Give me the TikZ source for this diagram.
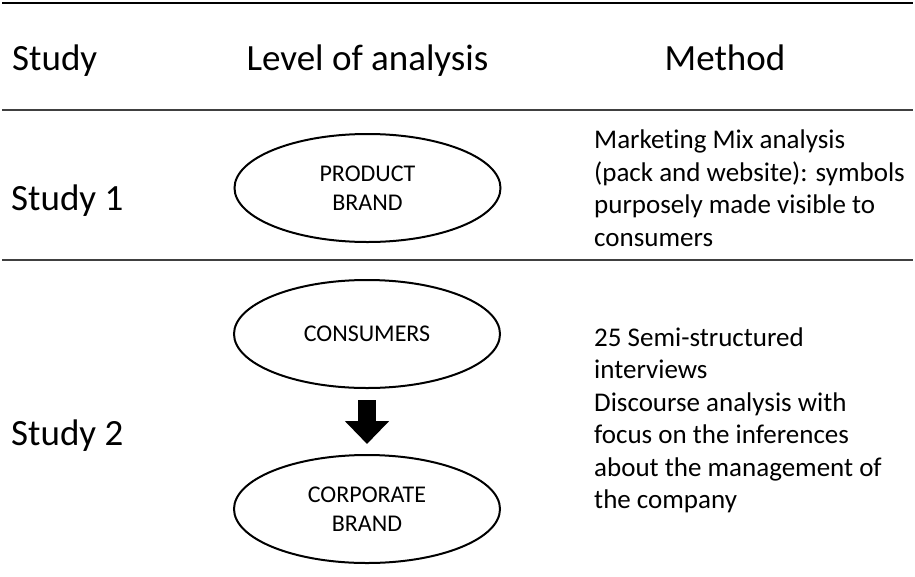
\documentclass[tikz,border=0pt]{standalone}
\usepackage{fontspec}
\setmainfont{Carlito}[Ligatures=NoCommon]
\usetikzlibrary{shapes.geometric,arrows.meta}
\begin{document}
\begin{tikzpicture}[x=1pt,y=-1pt,
  rulemid/.style={line width=1.6pt, draw=black!75},
  ruletop/.style={line width=2pt, draw=black},
  headtxt/.style={font=\fontsize{37}{44}\selectfont, inner sep=0pt},
  bodytxt/.style={font=\fontsize{27}{32.4}\selectfont, inner sep=0pt, align=left, anchor=base west},
  oval/.style={ellipse, draw, line width=2pt, minimum width=266pt, minimum height=108pt, inner sep=0pt, align=center, font=\fontsize{24}{29}\selectfont},
  bigarrow/.style={line width=18pt, -{Triangle[length=23pt,width=43pt]}}
]
\useasboundingbox (0,0) rectangle (915,576);

% rules
\draw[ruletop] (2,3) -- (913,3);
\draw[rulemid] (2,110) -- (913,110);
\draw[rulemid] (2,260) -- (913,260);

% header
\node[headtxt, anchor=base west] (hstudy) at (12,70) {Study};
\node[headtxt, anchor=base] (hlevel) at (367.5,70) {Level of analysis};
\node[headtxt, anchor=base] (hmethod) at (725,70) {Method};

% study labels
\node[headtxt, anchor=base west] (s1) at (11,210) {Study 1};
\node[headtxt, anchor=base west] (s2) at (11,445) {Study 2};

% ellipses
\node[oval] (pb) at (367.5,188) {PRODUCT\\BRAND};
\node[oval] (cons) at (367,334) {CONSUMERS};
\node[oval] (cb) at (367,509) {CORPORATE\\BRAND};

\draw[bigarrow, shorten <=11pt, shorten >=10pt] (cons.south) -- (cb.north);

% method texts (base anchor = last line's baseline)
\node[bodytxt] (m1) at (594,246) {Marketing Mix analysis\\(pack and website): symbols\\purposely made visible to\\consumers};
\node[bodytxt, font=\fontsize{27}{32.5}\selectfont] (m2) at (594,508.5) {25 Semi-structured\\interviews\\Discourse analysis with\\focus on the inferences\\about the management of\\the company};
\end{tikzpicture}
\end{document}
